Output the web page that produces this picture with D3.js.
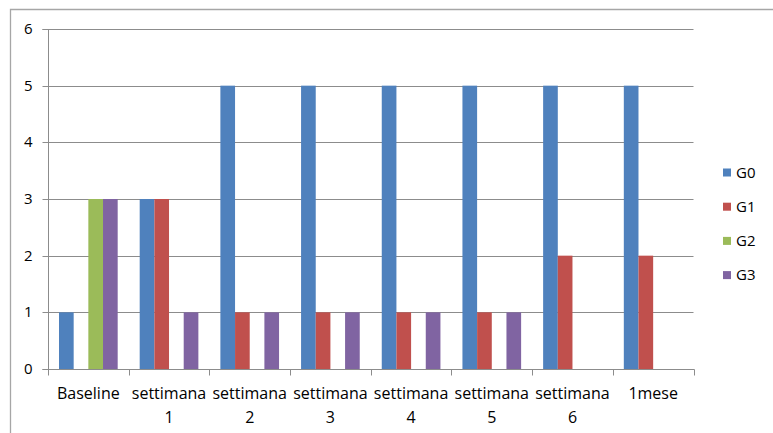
<!DOCTYPE html>
<html><head><meta charset="utf-8">
<script src="https://cdn.jsdelivr.net/npm/d3@7"></script>
<style>html,body{margin:0;padding:0;background:#fff;}svg{display:block;}</style>
</head><body>
<svg id="chart" width="773" height="433"></svg>
<script>
const categories = ["Baseline", "settimana 1", "settimana 2", "settimana 3", "settimana 4", "settimana 5", "settimana 6", "1mese"];
const seriesNames = ["G0", "G1", "G2", "G3"];
const G0 = [1, 3, 5, 5, 5, 5, 5, 5];
const G1 = [0, 3, 1, 1, 1, 1, 2, 2];
const G2 = [3, 0, 0, 0, 0, 0, 0, 0];
const G3 = [3, 1, 1, 1, 1, 1, 0, 0];
const yTicks = [0, 1, 2, 3, 4, 5, 6];
const colors = ["#4F81BD", "#C0504D", "#9BBB59", "#8064A2"];

const seriesValues = [G0, G1, G2, G3];
const svg = d3.select("#chart");
const font = "'Open Sans', sans-serif";

// outer frame
svg.append("path").attr("d", "M10.5,433 V9.5 H773").attr("fill", "none").attr("stroke", "#a6a6a6").attr("stroke-width", 1.3);

const x0 = 48, x1 = 693.5, yTop = 29, yBot = 369;
const x = d3.scaleBand().domain(categories).range([x0, x1]).paddingInner(0).paddingOuter(0);
const bw = x.bandwidth();
const barW = bw / 5.5;
const xs = d3.scaleBand().domain(seriesNames).range([barW * 0.75, barW * 0.75 + barW * 4]).padding(0);
const y = d3.scaleLinear().domain([0, 6]).range([yBot, yTop]);

// gridlines
svg.append("g").selectAll("line").data(yTicks.filter(d => d > 0)).join("line")
  .attr("x1", x0).attr("x2", x1).attr("y1", d => Math.round(y(d)) + 0.5).attr("y2", d => Math.round(y(d)) + 0.5)
  .attr("stroke", "#8c8c8c").attr("stroke-width", 1);

// bars
const data = [];
categories.forEach((c, i) => seriesNames.forEach((s, j) => data.push({c, s, v: seriesValues[j][i], j})));
svg.append("g").selectAll("rect").data(data.filter(d => d.v > 0)).join("rect")
  .attr("x", d => x(d.c) + xs(d.s)).attr("width", xs.bandwidth())
  .attr("y", d => y(d.v)).attr("height", d => y(0) - y(d.v))
  .attr("fill", d => colors[d.j]);

// y axis
const yAxis = d3.axisLeft(y).tickValues(yTicks).tickSize(6).tickPadding(10).tickFormat(d3.format("d"));
const gy = svg.append("g").attr("transform", `translate(${x0 + 0.5},0.5)`).call(yAxis);
gy.select(".domain").attr("stroke", "#8c8c8c").attr("d", `M-6,${Math.round(y(6))}H0V${Math.round(y(0))}H-6`);
gy.selectAll(".tick line").attr("stroke", "#8c8c8c");
gy.selectAll(".tick").attr("transform", d => `translate(0,${Math.round(y(d))})`);
gy.selectAll("text").attr("font-family", font).attr("font-size", "15px").attr("fill", "#000");

// x axis
const gx = svg.append("g").attr("transform", `translate(0,${yBot + 0.5})`);
gx.append("line").attr("x1", x0).attr("x2", x1 + 1).attr("stroke", "#8c8c8c");
const bounds = categories.map(c => x(c)).concat([x1]);
gx.selectAll("line.tk").data(bounds).join("line").attr("class", "tk")
  .attr("x1", d => Math.round(d) + 0.5).attr("x2", d => Math.round(d) + 0.5).attr("y1", 0).attr("y2", 6)
  .attr("stroke", "#8c8c8c");
categories.forEach(c => {
  const parts = c.startsWith("settimana") ? ["settimana", c.split(" ")[1]] : [c];
  const t = gx.append("text").attr("x", x(c) + bw / 2).attr("text-anchor", "middle")
    .attr("font-family", font).attr("font-size", "16px").attr("fill", "#000");
  parts.forEach((p, k) => t.append("tspan").attr("x", x(c) + bw / 2).attr("y", 29 + k * 24).text(p));
});

// legend
const lg = svg.append("g").selectAll("g").data(seriesNames).join("g")
  .attr("transform", (d, i) => `translate(723,${172.5 + i * 34.2})`);
lg.append("rect").attr("x", 0).attr("y", -4).attr("width", 8).attr("height", 8).attr("fill", (d, i) => colors[i]);
lg.append("text").attr("x", 13).attr("y", 0).attr("dy", "0.35em").attr("font-family", font).attr("font-size", "15px")
  .attr("fill", "#000").text(d => d);
</script>
</body></html>
